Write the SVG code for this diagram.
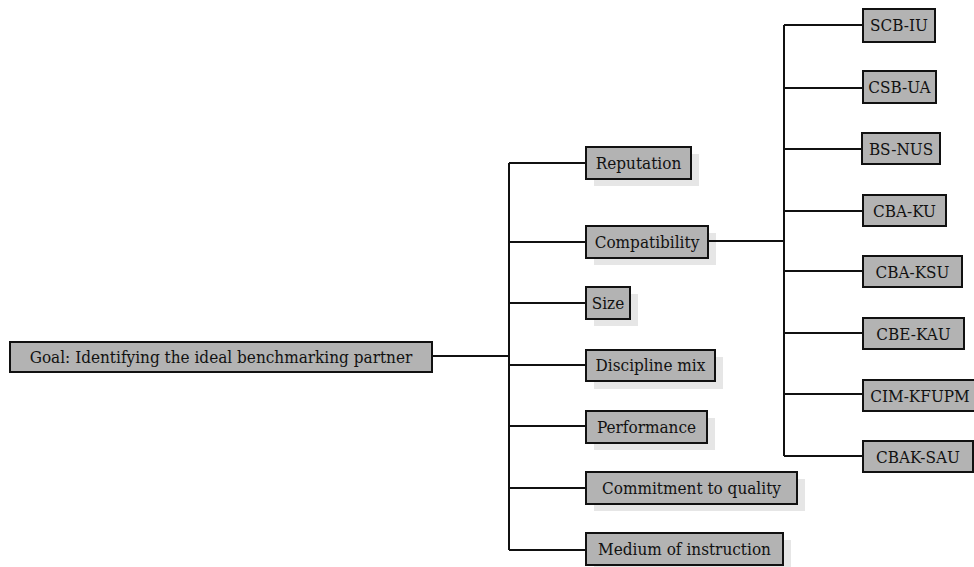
<svg xmlns="http://www.w3.org/2000/svg" width="974" height="567" viewBox="0 0 974 567">
<style>
.box{fill:#b3b3b3;stroke:#111;stroke-width:2}
.sh{fill:#e6e6e6;stroke:none}
.t{font-family:'DejaVu Serif Condensed','DejaVu Serif',serif;font-stretch:condensed;font-size:17px;fill:#111;text-anchor:middle}
.c{fill:none;stroke:#111;stroke-width:2}
</style>
<rect width="974" height="567" fill="#fff"/>
<g id="goal"><rect class="box" x="10" y="342" width="422" height="30"/><text class="t" x="221" y="363">Goal: Identifying the ideal benchmarking partner</text></g>
<g id="reputation"><rect class="sh" x="594" y="154" width="105" height="32"/><rect class="box" x="586" y="147" width="105" height="32"/><text class="t" x="638.5" y="169">Reputation</text></g>
<g id="compatibility"><rect class="sh" x="594" y="233" width="122" height="32"/><rect class="box" x="586" y="226" width="122" height="32"/><text class="t" x="647" y="248">Compatibility</text></g>
<g id="size"><rect class="sh" x="594" y="294" width="44" height="32"/><rect class="box" x="586" y="287" width="44" height="32"/><text class="t" x="608" y="309">Size</text></g>
<g id="discipline"><rect class="sh" x="594" y="357" width="129" height="32"/><rect class="box" x="586" y="350" width="129" height="31"/><text class="t" x="650.5" y="371">Discipline mix</text></g>
<g id="performance"><rect class="sh" x="594" y="418" width="121" height="32"/><rect class="box" x="586" y="411" width="121" height="32"/><text class="t" x="646.5" y="433">Performance</text></g>
<g id="commitment"><rect class="sh" x="594" y="479" width="211" height="32"/><rect class="box" x="586" y="472" width="211" height="32"/><text class="t" x="691.5" y="494">Commitment to quality</text></g>
<g id="medium"><rect class="sh" x="594" y="540" width="197" height="32"/><rect class="box" x="586" y="533" width="197" height="32"/><text class="t" x="684.5" y="555">Medium of instruction</text></g>
<g id="scb-iu"><rect class="box" x="863" y="9" width="72" height="33"/><text class="t" x="899" y="31">SCB-IU</text></g>
<g id="csb-ua"><rect class="box" x="863" y="71" width="73" height="32"/><text class="t" x="899.5" y="93">CSB-UA</text></g>
<g id="bs-nus"><rect class="box" x="862" y="133" width="78" height="31"/><text class="t" x="901" y="155">BS-NUS</text></g>
<g id="cba-ku"><rect class="box" x="863" y="195" width="83" height="31"/><text class="t" x="904.5" y="217">CBA-KU</text></g>
<g id="cba-ksu"><rect class="box" x="863" y="256" width="99" height="31"/><text class="t" x="912.5" y="278">CBA-KSU</text></g>
<g id="cbe-kau"><rect class="box" x="863" y="318" width="101" height="31"/><text class="t" x="913.5" y="340">CBE-KAU</text></g>
<g id="cim-kfupm"><rect class="box" x="863" y="380" width="120" height="31"/><text class="t" x="920" y="402">CIM-KFUPM</text></g>
<g id="cbak-sau"><rect class="box" x="863" y="441" width="110" height="31"/><text class="t" x="918" y="463">CBAK-SAU</text></g>
<g id="connectors">
<path class="c" d="M433 356H509M509 163V550M509 163H585M509 242H585M509 303H585M509 365H585M509 426H585M509 488H585M509 550H585"/>
<path class="c" d="M709 241H784M784 25V456M784 25H862M784 88H862M784 149H861M784 211H862M784 271H862M784 333H862M784 394H862M784 456H862"/>
</g>
</svg>
